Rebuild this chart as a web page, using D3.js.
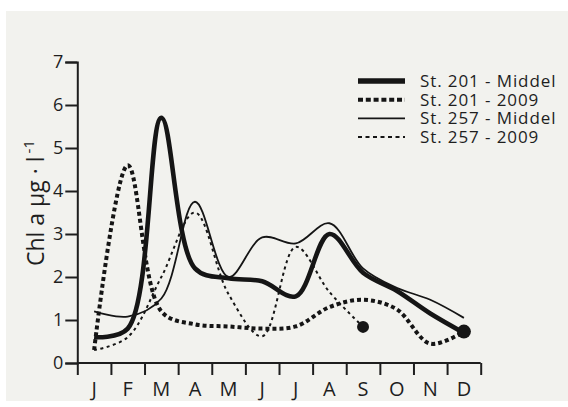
<!DOCTYPE html>
<html>
<head>
<meta charset="utf-8">
<script src="https://cdn.jsdelivr.net/npm/d3@7"></script>
<style>
  html, body { margin: 0; padding: 0; background: #ffffff; }
  svg { display: block; }
  text { font-family: "Open Sans", "Noto Sans", sans-serif; fill: #1e1e1e; }
</style>
</head>
<body>
<svg id="chart" width="568" height="407"></svg>
<script>
// Monthly chlorophyll a concentration (µg/l)
const months = ["J", "F", "M", "A", "M", "J", "J", "A", "S", "O", "N", "D"];
const yTicks = [0, 1, 2, 3, 4, 5, 6, 7];

const st201Middel = [0.6, 0.8, 5.7, 2.2, 1.97, 1.9, 1.55, 3.0, 2.1, 1.68, 1.15, 0.7];
const st201y2009  = [0.3, 4.6, 1.2, 0.9, 0.85, 0.8, 0.85, 1.3, 1.47, 1.25, 0.45, 0.73];
const st257Middel = [1.2, 1.08, 1.5, 3.75, 2.0, 2.92, 2.78, 3.25, 2.2, 1.75, 1.47, 1.05];
const st257y2009  = [0.3, 0.6, 2.0, 3.5, 1.6, 0.62, 2.7, 1.65, 0.84];

const seriesNames = ["St. 201 - Middel", "St. 201 - 2009", "St. 257 - Middel", "St. 257 - 2009"];

const styles = [
  { width: 4.6, dash: null },
  { width: 4, dash: "4,3" },
  { width: 1.8, dash: null },
  { width: 2, dash: "3,3.5" }
];
const seriesValues = [st201Middel, st201y2009, st257Middel, st257y2009];

const svg = d3.select("#chart");

// panel background
svg.append("rect")
  .attr("x", 6).attr("y", 11)
  .attr("width", 562).attr("height", 390)
  .attr("fill", "#f2f2ee");

const plotLeft = 77.3, plotRight = 480.7, plotTop = 62, plotBottom = 363;

const xBand = d3.scaleBand().domain(d3.range(12)).range([plotLeft, plotRight]).padding(0);
const xEdge = d3.scaleLinear().domain([0, 12]).range([plotLeft, plotRight]);
const y = d3.scaleLinear().domain([0, 7]).range([plotBottom, plotTop]);
const xc = i => xBand(i) + xBand.bandwidth() / 2;

// y axis
const yAxis = svg.append("g")
  .attr("transform", `translate(${plotLeft},0)`)
  .call(d3.axisLeft(y).tickValues(yTicks).tickSize(12).tickPadding(2).tickFormat(d3.format("d")));
yAxis.select(".domain").attr("stroke", "#1e1e1e").attr("stroke-width", 2);
yAxis.selectAll(".tick line").attr("stroke", "#1e1e1e").attr("stroke-width", 2);
yAxis.selectAll(".tick text").style("font-size", "18px").attr("fill", "#1e1e1e");

// x axis: ticks at month boundaries, labels at month centres
const xAxis = svg.append("g")
  .attr("transform", `translate(0,${plotBottom})`)
  .call(d3.axisBottom(xEdge).tickValues(d3.range(13)).tickSize(12).tickFormat(""));
xAxis.select(".domain").attr("stroke", "#1e1e1e").attr("stroke-width", 2).attr("d", `M${plotLeft},0H${plotRight}`);
xAxis.selectAll(".tick line").attr("stroke", "#1e1e1e").attr("stroke-width", 2);

const xLabels = svg.append("g")
  .attr("transform", `translate(0,${plotBottom})`)
  .call(d3.axisBottom(xBand).tickSize(0).tickPadding(19).tickFormat(i => months[i]));
xLabels.select(".domain").remove();
xLabels.selectAll(".tick text").style("font-size", "20px").attr("fill", "#1e1e1e");

// y axis title
const yTitle = svg.append("text")
  .attr("transform", "translate(44,203) rotate(-90)")
  .attr("text-anchor", "middle")
  .style("font-size", "23px");
yTitle.append("tspan").text("Chl a µg · l");
yTitle.append("tspan").attr("dx", 3).attr("dy", -10).style("font-size", "15px").text("-1");

// series
const line = d3.line()
  .x((d, i) => xc(i))
  .y(d => y(d))
  .curve(d3.curveCatmullRom.alpha(0.5));

seriesValues.forEach((vals, k) => {
  svg.append("path")
    .datum(vals)
    .attr("d", line)
    .attr("fill", "none")
    .attr("stroke", "#151515")
    .attr("stroke-width", styles[k].width)
    .attr("stroke-dasharray", styles[k].dash)
    .attr("stroke-linejoin", "round");
});

// end-of-series markers for the 2009 sampling
const ends = [
  { i: st257y2009.length - 1, v: st257y2009[st257y2009.length - 1], r: 6 },
  { i: st201y2009.length - 1, v: st201y2009[st201y2009.length - 1], r: 7 }
];
svg.selectAll("circle.end")
  .data(ends)
  .enter().append("circle")
  .attr("class", "end")
  .attr("cx", d => xc(d.i))
  .attr("cy", d => y(d.v))
  .attr("r", d => d.r)
  .attr("fill", "#151515");

// legend
const legend = svg.append("g");
seriesNames.forEach((name, k) => {
  const ly = 81 + k * 18.7;
  legend.append("line")
    .attr("x1", 358).attr("x2", 405)
    .attr("y1", ly).attr("y2", ly)
    .attr("stroke", "#151515")
    .attr("stroke-width", k === 0 ? 5.5 : styles[k].width)
    .attr("stroke-dasharray", k === 1 ? "5,2.8" : (k === 3 ? "4,3.5" : null));
  legend.append("text")
    .attr("x", 420).attr("y", ly + 6)
    .style("font-size", "17px")
    .style("font-weight", "500")
    .style("letter-spacing", "0.9px")
    .text(name);
});
</script>
</body>
</html>
